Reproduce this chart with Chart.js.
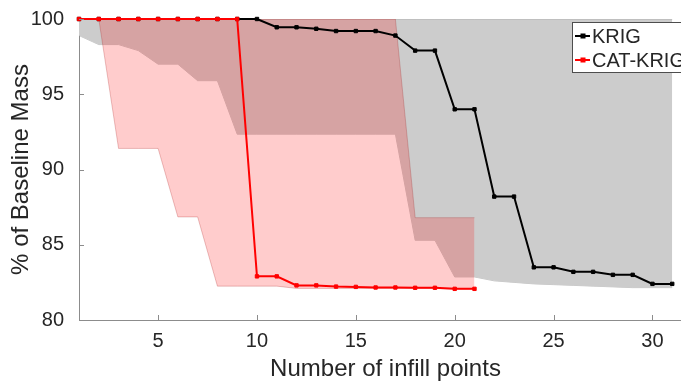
<!doctype html>
<html lang="en">
<head>
<meta charset="utf-8">
<title>Baseline mass vs infill points</title>
<script src="https://cdn.jsdelivr.net/npm/chart.js@4"></script>
<style>
  html, body { margin: 0; padding: 0; background: #fff; overflow: hidden; }
  #wrap { width: 681px; height: 385px; overflow: hidden; }
</style>
</head>
<body>
<div id="wrap"><canvas id="massChart" width="692" height="385"></canvas></div>
<script>
// x values (number of infill points)
const infill = [1, 2, 3, 4, 5, 6, 7, 8, 9, 10, 11, 12, 13, 14, 15, 16, 17, 18, 19, 20, 21, 22, 23, 24, 25, 26, 27, 28, 29, 30, 31];

// median lines
const krig = [100, 100, 100, 100, 100, 100, 100, 100, 100, 100, 99.45, 99.45, 99.35, 99.2, 99.2, 99.2, 98.9, 97.9, 97.9, 94.0, 94.0, 88.2, 88.2, 83.5, 83.5, 83.2, 83.2, 83.0, 83.0, 82.4, 82.4];
const catKrig = [100, 100, 100, 100, 100, 100, 100, 100, 100, 82.9, 82.9, 82.3, 82.3, 82.22, 82.2, 82.16, 82.16, 82.14, 82.14, 82.07, 82.07];

// shaded ranges
const krigUpper = [100, 100, 100, 100, 100, 100, 100, 100, 100, 100, 100, 100, 100, 100, 100, 100, 100, 100, 100, 100, 100, 100, 100, 100, 100, 100, 100, 100, 100, 100, 100];
const krigLower = [98.9, 98.3, 98.3, 97.9, 97.0, 97.0, 95.9, 95.9, 92.35, 92.35, 92.35, 92.35, 92.35, 92.35, 92.35, 92.35, 92.35, 85.3, 85.3, 82.86, 82.86, 82.6, 82.5, 82.4, 82.35, 82.3, 82.25, 82.2, 82.15, 82.15, 82.15];
const catUpper = [100, 100, 100, 100, 100, 100, 100, 100, 100, 100, 100, 100, 100, 100, 100, 100, 100, 86.8, 86.8, 86.8, 86.8];
const catLower = [100, 100, 91.4, 91.4, 91.4, 86.85, 86.85, 82.25, 82.25, 82.25, 82.25, 82.1, 82.1, 82.1, 82.1, 82.1, 82.1, 82.1, 82.1, 82.05, 82.05];

const xTicks = [5, 10, 15, 20, 25, 30];
const yTicks = [80, 85, 90, 95, 100];

const textColor = '#262626';
const axisColor = '#8c8c8c';
const fontFamily = '"Liberation Sans", Arial, Helvetica, sans-serif';

function pts(arr) {
    return arr.map((v, i) => ({ x: infill[i], y: v }));
}

// MATLAB style ticks pointing into the plot
const inwardTicks = {
    id: 'inwardTicks',
    afterDatasetsDraw(chart) {
        const { ctx, chartArea: a, scales: { x, y } } = chart;
        ctx.save();
        ctx.strokeStyle = axisColor;
        ctx.lineWidth = 1;
        ctx.beginPath();
        x.ticks.forEach(t => {
            const px = Math.round(x.getPixelForValue(t.value)) + 0.5;
            ctx.moveTo(px, a.bottom);
            ctx.lineTo(px, a.bottom - 5);
        });
        y.ticks.forEach(t => {
            const py = Math.round(y.getPixelForValue(t.value)) + 0.5;
            ctx.moveTo(a.left, py);
            ctx.lineTo(a.left + 5, py);
        });
        ctx.stroke();
        ctx.restore();
    }
};

// boxed legend in the top right corner (cut off by the page edge like the original)
const boxLegend = {
    id: 'boxLegend',
    afterDraw(chart) {
        const ctx = chart.ctx;
        const items = chart.data.datasets.filter(d => d.inLegend);
        const bx = 572.5, by = 22.5, bw = 122, bh = 50;
        ctx.save();
        ctx.fillStyle = '#fff';
        ctx.fillRect(bx, by, bw, bh);
        ctx.strokeStyle = '#4d4d4d';
        ctx.lineWidth = 1;
        ctx.strokeRect(bx, by, bw, bh);
        ctx.font = '20px ' + fontFamily;
        ctx.textBaseline = 'middle';
        items.forEach((d, i) => {
            const cy = 36 + i * 24;
            ctx.strokeStyle = d.borderColor;
            ctx.lineWidth = 2;
            ctx.beginPath();
            ctx.moveTo(575, cy);
            ctx.lineTo(590, cy);
            ctx.stroke();
            ctx.fillStyle = d.borderColor;
            ctx.fillRect(580.5, cy - 2.5, 5, 5);
            ctx.fillStyle = textColor;
            ctx.fillText(d.label, 592, cy + 1);
        });
        ctx.restore();
    }
};

const lineStyle = {
    fill: false,
    borderWidth: 2,
    pointStyle: 'rect',
    pointRadius: 2.4,
    pointBorderWidth: 1,
    clip: false,
    inLegend: true
};

new Chart(document.getElementById('massChart'), {
    type: 'line',
    data: {
        datasets: [
            { ...lineStyle, label: 'KRIG', data: pts(krig), borderColor: '#000000', backgroundColor: '#000000', order: 1 },
            { ...lineStyle, label: 'CAT-KRIG', data: pts(catKrig), borderColor: '#ff0000', backgroundColor: '#ff0000', order: 0 },
            { label: 'KRIG max', data: pts(krigUpper), fill: '+1', backgroundColor: '#cccccc', borderColor: '#a3a3a3', borderWidth: 0.6, pointRadius: 0, order: 3 },
            { label: 'KRIG min', data: pts(krigLower), fill: false, borderColor: '#a3a3a3', borderWidth: 0.6, pointRadius: 0, order: 3 },
            { label: 'CAT-KRIG max', data: pts(catUpper), fill: '+1', backgroundColor: 'rgba(255,0,0,0.2)', borderColor: 'rgba(160,40,40,0.45)', borderWidth: 0.6, pointRadius: 0, order: 2 },
            { label: 'CAT-KRIG min', data: pts(catLower), fill: false, borderColor: 'rgba(160,40,40,0.45)', borderWidth: 0.6, pointRadius: 0, order: 2 }
        ]
    },
    options: {
        responsive: false,
        animation: false,
        events: [],
        layout: { autoPadding: false, padding: { top: 17, right: 0, left: 0, bottom: 0 } },
        plugins: {
            legend: { display: false },
            tooltip: { enabled: false }
        },
        scales: {
            x: {
                type: 'linear',
                min: 1,
                max: 32,
                afterBuildTicks: s => { s.ticks = xTicks.map(v => ({ value: v })); },
                afterFit: s => { s.height = 65; s.paddingLeft = 0; s.paddingRight = 0; },
                grid: { display: false },
                border: { color: axisColor, width: 1 },
                ticks: { color: textColor, font: { family: fontFamily, size: 20 }, padding: 1, maxRotation: 0 },
                title: { display: true, text: 'Number of infill points', color: textColor, font: { family: fontFamily, size: 24 }, padding: { top: 0, bottom: 1 } }
            },
            y: {
                min: 80,
                max: 100,
                afterBuildTicks: s => { s.ticks = yTicks.map(v => ({ value: v })); },
                afterFit: s => { s.width = 79; },
                grid: { display: false },
                border: { color: axisColor, width: 1 },
                ticks: { color: textColor, font: { family: fontFamily, size: 20 }, padding: 7 },
                title: { display: true, text: '% of Baseline Mass', color: textColor, font: { family: fontFamily, size: 24 }, padding: { top: 7, bottom: 0 } }
            }
        }
    },
    plugins: [inwardTicks, boxLegend]
});
</script>
</body>
</html>
